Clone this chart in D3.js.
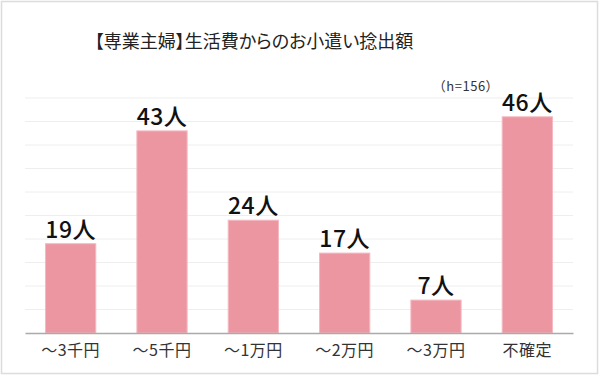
<!DOCTYPE html>
<html><head><meta charset="utf-8">
<script src="https://cdn.jsdelivr.net/npm/d3@7"></script>
<style>
html,body{margin:0;padding:0;background:#fff;}
svg{display:block;font-family:"Noto Sans CJK JP","Noto Sans",sans-serif;}
</style></head>
<body>
<svg id="chart" width="600" height="375"></svg>
<script>
const title = "【専業主婦】生活費からのお小遣い捻出額";
const note = "（h=156）";
const categories = ["～3千円", "～5千円", "～1万円", "～2万円", "～3万円", "不確定"];
const values = [19, 43, 24, 17, 7, 46];
const unit = "人";
const yTicks = [0, 5, 10, 15, 20, 25, 30, 35, 40, 45, 50];

const svg = d3.select("#chart");
svg.append("rect").attr("x", 1.5).attr("y", 1.5).attr("width", 596).attr("height", 372)
  .attr("fill", "#fff").attr("stroke", "#dcdcdc").attr("stroke-width", 1.5);

const m = {left: 25, right: 27, top: 98, bottom: 42};
const W = 600, H = 375;
const x = d3.scaleBand().domain(categories).range([m.left, W - m.right]).paddingInner(0.45).paddingOuter(0.225);
const y = d3.scaleLinear().domain([0, 50]).range([H - m.bottom, m.top]);

// gridlines
svg.append("g").selectAll("line").data(yTicks.slice(1)).join("line")
  .attr("x1", m.left).attr("x2", W - m.right)
  .attr("y1", d => y(d)).attr("y2", d => y(d))
  .attr("stroke", "#eeeeee").attr("stroke-width", 1);

// bars
svg.append("g").selectAll("rect").data(values).join("rect")
  .attr("x", (d, i) => x(categories[i]))
  .attr("y", d => y(d))
  .attr("width", x.bandwidth())
  .attr("height", d => y(0) - y(d))
  .attr("fill", "#ec96a2")
  .attr("stroke", "#f4b8c0").attr("stroke-width", 1);

// baseline axis
const xAxis = d3.axisBottom(x).tickSize(0).tickPadding(12);
const gx = svg.append("g").attr("transform", `translate(0,${y(0)})`).call(xAxis);
gx.select(".domain").attr("stroke", "#aaaaaa").attr("stroke-width", 1.5);
gx.selectAll("text").attr("font-size", 16).attr("fill", "#333")
  .attr("letter-spacing", 0.5)
  .attr("font-family", "\"Noto Sans CJK JP\",sans-serif");

// value labels
svg.append("g").selectAll("text").data(values).join("text")
  .attr("x", (d, i) => x(categories[i]) + x.bandwidth() / 2)
  .attr("y", d => y(d) - 6)
  .attr("text-anchor", "middle")
  .attr("font-size", 23).attr("font-weight", 500).attr("fill", "#111")
  .attr("letter-spacing", 0.5)
  .text(d => d + unit);

// title
svg.append("text").attr("x", 254).attr("y", 48).attr("text-anchor", "middle")
  .attr("font-size", 18).attr("fill", "#222")
  .style("font-feature-settings", "'palt' 1")
  .text(title);

// note
svg.append("text").attr("x", 466).attr("y", 91).attr("text-anchor", "middle")
  .attr("font-size", 13).attr("fill", "#333").attr("letter-spacing", 0.5).text(note);
</script>
</body></html>
